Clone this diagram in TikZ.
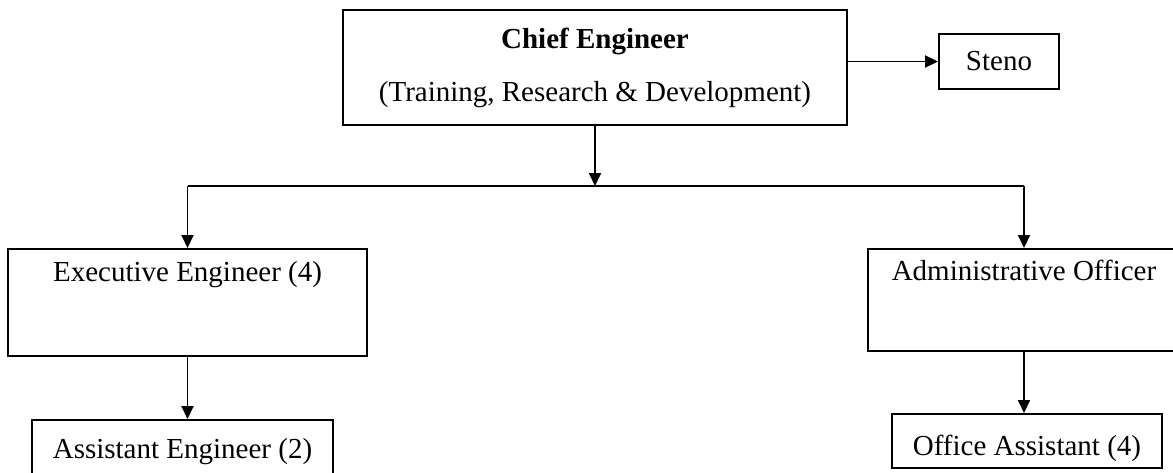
\documentclass[tikz,border=0pt]{standalone}
\usepackage{fontspec}
\setmainfont{Liberation Serif}
\usetikzlibrary{arrows.meta}

\begin{document}
\begin{tikzpicture}[x=1pt, y=-1pt, line width=1.9pt,
    every node/.style={draw, font=\fontsize{29}{34}\selectfont},
    post/.style={anchor=north, inner sep=0pt},
    arr/.style={-{Triangle[length=13pt,width=12pt]}}]
    \useasboundingbox (0,0) rectangle (1173,472);

    % Top level
    \node[minimum width=504pt, minimum height=115pt, align=center] (chief) at (595,67.5)
        {\textbf{Chief Engineer}\\[19pt](Training, Research \& Development)};
    \node[minimum width=120pt, minimum height=55pt] (steno) at (999,61.5) {Steno};
    \coordinate (split) at (595,186);

    % Second level
    \node[post, minimum width=359pt, text height=33pt, text depth=74pt] (exec) at (187.5,248) {Executive Engineer (4)};
    \node[post, minimum width=312pt, text height=32pt, text depth=70pt] (admin) at (1024,248) {Administrative Officer};

    % Third level
    \node[post, minimum width=301pt, text height=39pt, text depth=22pt] (asst) at (182.5,419) {Assistant Engineer (2)};
    \node[post, minimum width=270pt, text height=42pt, text depth=12pt] (office) at (1027,413) {Office Assistant (4)};

    % Arrows
    \draw[arr] (chief.east |- steno.west) -- (steno.west);
    \draw[arr] (chief.south) -- (split);
    \draw (exec.north |- split) -- (admin.north |- split);
    \draw[arr] (exec.north |- split) -- (exec.north);
    \draw[arr] (admin.north |- split) -- (admin.north);
    \draw[arr] (exec.south) -- (exec.south |- asst.north);
    \draw[arr] (admin.south) -- (admin.south |- office.north);
\end{tikzpicture}
\end{document}
